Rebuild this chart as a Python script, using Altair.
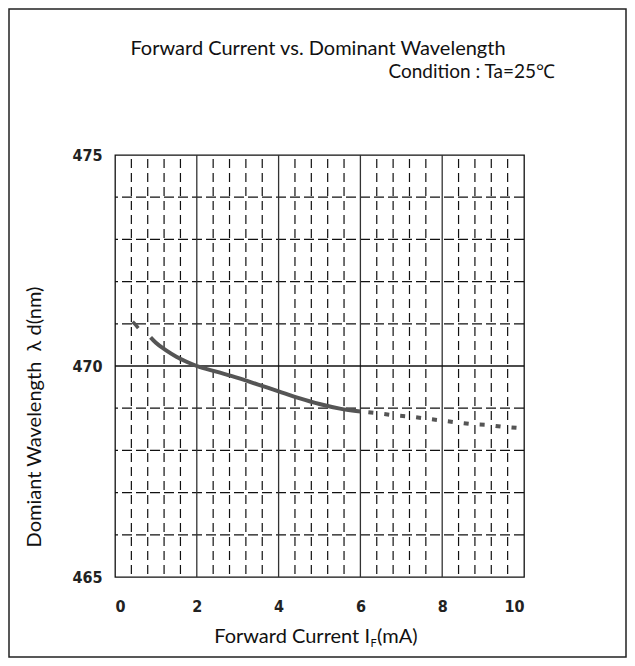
import altair as alt
import pandas as pd

# curve data
seg1_x = [0.43, 0.50, 0.57]
seg1_y = [471.05, 470.98, 470.90]
solid_x = [0.87, 1.0, 1.25, 1.5, 1.75, 2.0, 2.5, 3.0, 3.5, 4.0, 4.5, 5.0, 5.5, 6.0]
solid_y = [470.68, 470.55, 470.37, 470.22, 470.10, 470.00, 469.86, 469.72, 469.56, 469.40, 469.24, 469.10, 468.99, 468.92]
dash_x = [6.0, 6.42, 6.83, 7.24, 7.64, 8.05, 8.37, 8.74, 9.15, 9.47, 9.88, 10.0]
dash_y = [468.92, 468.88, 468.83, 468.80, 468.75, 468.70, 468.66, 468.62, 468.60, 468.56, 468.53, 468.52]

x_ticks = [0, 2, 4, 6, 8, 10]
y_ticks = [465, 470, 475]
major_x = [2, 4, 6, 8]
minor_x = [v / 10 for v in range(4, 100, 4) if v % 20 != 0]
major_y = [470]
minor_y = [466, 467, 468, 469, 471, 472, 473, 474]

W, H = 409, 422
PL, PT = 107, 147
CW, CH = 619, 650

TF = "Lato"
LF = "DejaVu Sans Condensed"

xs = alt.Scale(domain=[0, 10], nice=False)
ys = alt.Scale(domain=[465, 475], nice=False)

xaxis = alt.Axis(values=x_ticks, ticks=False, domain=False, grid=False, title=None,
                 labelFont=LF, labelFontWeight="bold",
                 labelFontSize=16, labelColor="#222", labelPadding=21)
yaxis = alt.Axis(values=y_ticks, ticks=False, domain=False, grid=False, title=None,
                 labelFont=LF, labelFontWeight="bold",
                 labelFontSize=16, labelColor="#222", labelPadding=13)

vminor = alt.Chart(pd.DataFrame({"x": minor_x})).mark_rule(
    color="#111", strokeWidth=1.2, strokeDash=[9, 5], strokeDashOffset=-4
).encode(x=alt.X("x:Q", scale=xs, axis=xaxis))
vmajor = alt.Chart(pd.DataFrame({"x": major_x})).mark_rule(
    color="#333", strokeWidth=1.3
).encode(x=alt.X("x:Q", scale=xs))
hminor = alt.Chart(pd.DataFrame({"y": minor_y})).mark_rule(
    color="#111", strokeWidth=1.2, strokeDash=[10, 4]
).encode(y=alt.Y("y:Q", scale=ys, axis=yaxis))
hmajor = alt.Chart(pd.DataFrame({"y": major_y})).mark_rule(
    color="#111", strokeWidth=1.3
).encode(y=alt.Y("y:Q", scale=ys))

l1 = alt.Chart(pd.DataFrame({"x": seg1_x, "y": seg1_y})).mark_line(
    color="#555", strokeWidth=3.5
).encode(x=alt.X("x:Q", scale=xs), y=alt.Y("y:Q", scale=ys))
l2 = alt.Chart(pd.DataFrame({"x": solid_x, "y": solid_y})).mark_line(
    color="#555", strokeWidth=4, interpolate="monotone"
).encode(x=alt.X("x:Q", scale=xs), y=alt.Y("y:Q", scale=ys))
l3 = alt.Chart(pd.DataFrame({"x": dash_x, "y": dash_y})).mark_line(
    color="#555", strokeWidth=4, strokeDash=[5, 11], strokeDashOffset=-8
).encode(x=alt.X("x:Q", scale=xs), y=alt.Y("y:Q", scale=ys))

one = alt.Chart(pd.DataFrame({"a": [0]}))


def txt(text, x, y, size, align="center", angle=0, baseline="alphabetic", font=TF, color="#111"):
    return one.mark_text(text=text, align=align, baseline=baseline, angle=angle,
                         font=font, fontSize=size, color=color).encode(
        x=alt.value(x), y=alt.value(y))


title = txt("Forward Current vs. Dominant Wavelength", 203, -100, 20)
subtitle = txt("Condition : Ta=25\u2103", 440, -77, 19, align="right")
xt1 = txt("Forward Current I", 255, 488, 20, align="right")
xt2 = txt("F", 255.5, 492, 11, align="left")
xt3 = txt("(mA)", 262, 488, 20, align="left")
yt = txt("Domiant Wavelength\u00a0\u00a0\u03bb\u00a0d(nm)", -80, 262, 20, angle=270, baseline="middle")

frame = one.mark_rect(fill=None, stroke="#222", strokeWidth=1.5).encode(
    x=alt.value(-PL + 1), x2=alt.value(CW - PL - 1),
    y=alt.value(-PT + 1), y2=alt.value(CH - PT - 1))

chart = alt.layer(
    frame, vminor, hminor, vmajor, hmajor, l1, l2, l3,
    title, subtitle, xt1, xt2, xt3, yt
).properties(
    width=W, height=H,
    autosize=alt.AutoSizeParams(type="none"),
    padding={"left": PL, "top": PT, "right": CW - PL - W, "bottom": CH - PT - H},
    background="white",
).configure_view(stroke="#111", strokeWidth=1.3)

chart.save("out.html", embed_options={"renderer": "svg", "actions": False})
